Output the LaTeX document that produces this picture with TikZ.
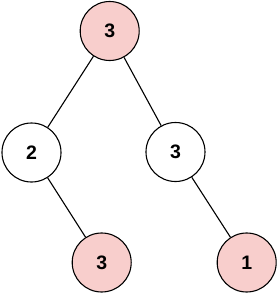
\documentclass[tikz,border=0pt]{standalone}
\usepackage{fontspec}
\setmainfont{Liberation Sans}
\definecolor{pinkfill}{HTML}{F8CECC}
\begin{document}
\begin{tikzpicture}[x=1pt,y=1pt,
  treenode/.style={circle,draw=black,line width=1.1pt,minimum size=59pt,inner sep=0pt,font=\fontsize{19.5}{21}\selectfont\bfseries},
  hl/.style={treenode,fill=pinkfill},
  plain/.style={treenode,fill=white},
  edge/.style={draw=black,line width=1.1pt}]
\useasboundingbox (0,0) rectangle (277,293);
\node[hl] (a) at (109.7,262) {3};
\node[plain] (b) at (31.5,140.5) {2};
\node[plain] (c) at (175.5,141) {3};
\node[hl] (d) at (101.7,30.5) {3};
\node[hl] (e) at (246.7,30.5) {1};
\draw[edge] (a) -- (b);
\draw[edge] (a) -- (c);
\draw[edge] (b) -- (d);
\draw[edge] (c) -- (e);
\end{tikzpicture}
\end{document}
